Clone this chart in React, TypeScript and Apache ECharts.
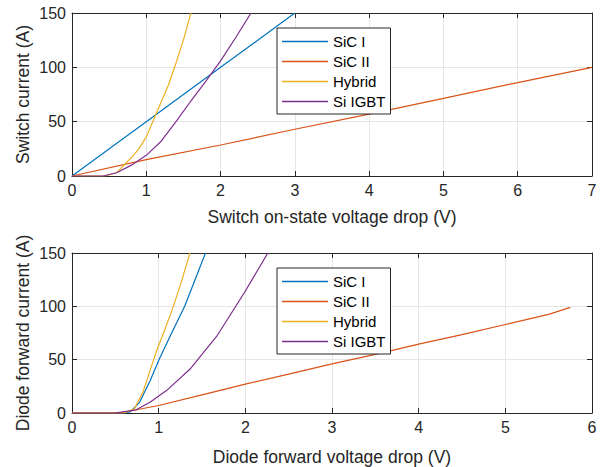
import React, { useEffect, useRef } from "react";
import * as echarts from "echarts";

const seriesNames = ["SiC I", "SiC II", "Hybrid", "Si IGBT"];
const colors = ["#0072BD", "#D95319", "#EDB120", "#7E2F8E"];

// Switch on-state characteristics
const swSicIV = [0, 1, 2, 3];
const swSicI = [0, 50, 100, 150];
const swSicIIV = [0, 1, 2, 3, 4, 5, 6, 7];
const swSicII = [0, 15, 28.5, 43, 57, 71.5, 86, 100];
const swHybridV = [0, 0.45, 0.6, 0.7, 0.8, 0.9, 1.0, 1.1, 1.2, 1.3, 1.4, 1.5, 1.6];
const swHybrid = [0, 0, 3, 10, 17, 25, 36, 52, 68, 84, 104, 125, 150];
const swIgbtV = [0, 0.42, 0.6, 0.8, 1.0, 1.2, 1.4, 1.6, 1.8, 2.0, 2.2, 2.41];
const swIgbt = [0, 0, 3, 10, 19, 32, 50, 69, 87, 106, 127, 150];

// Diode forward characteristics
const dSicIV = [0, 0.6, 0.67, 0.78, 0.9, 1.01, 1.15, 1.3, 1.42, 1.54];
const dSicI = [0, 0, 1, 10, 30, 51, 75, 100, 125, 150];
const dSicIIV = [0, 0.55, 1, 1.5, 2, 2.5, 3, 3.5, 4, 4.5, 5, 5.5, 5.75];
const dSicII = [0, 0, 7, 17, 27, 36.5, 46, 55, 64.5, 73.5, 83, 92.5, 99];
const dHybridV = [0, 0.6, 0.72, 0.82, 0.97, 1.07, 1.17, 1.27, 1.36];
const dHybrid = [0, 0, 4, 20, 57, 78, 100, 125, 150];
const dIgbtV = [0, 0.49, 0.74, 0.9, 1.09, 1.36, 1.67, 1.99, 2.26];
const dIgbt = [0, 0, 3, 10, 21, 41, 72, 113, 150];

const yTicks = [0, 50, 100, 150];

const zip = (xs: number[], ys: number[]) => xs.map((x, i) => [x, ys[i]]);

const FONT = "'Liberation Sans', Arial, Helvetica, sans-serif";
const AX = "#262626";
const GRID = "#e6e6e6";
const TICK_FS = 16;
const NAME_FS = 17.5;

function App() {
  const ref = useRef<HTMLDivElement>(null);
  useEffect(() => {
    if (!ref.current) return;
    const chart = echarts.init(ref.current, undefined, { renderer: "svg" });

    const mainX = (gridIndex: number, max: number, name: string, gap: number) => ({
      type: "value",
      gridIndex,
      min: 0,
      max,
      interval: 1,
      position: "bottom",
      name,
      nameLocation: "middle",
      nameGap: gap,
      nameMoveOverlap: false,
      nameTextStyle: { fontSize: NAME_FS, color: AX, fontFamily: FONT },
      axisLine: { show: true, onZero: false, lineStyle: { color: AX, width: 1 } },
      axisTick: { show: true, inside: true, length: 5, lineStyle: { color: AX } },
      axisLabel: { fontSize: TICK_FS, color: AX, fontFamily: FONT, margin: 6 },
      splitLine: { show: true, lineStyle: { color: GRID, width: 1 } },
    });
    const topX = (gridIndex: number, max: number) => ({
      type: "value",
      gridIndex,
      min: 0,
      max,
      interval: 1,
      position: "top",
      axisLine: { show: true, onZero: false, lineStyle: { color: AX, width: 1 } },
      axisTick: { show: true, inside: true, length: 5, lineStyle: { color: AX } },
      axisLabel: { show: false },
      splitLine: { show: false },
    });
    const mainY = (gridIndex: number, name: string) => ({
      type: "value",
      gridIndex,
      min: 0,
      max: 150,
      interval: 50,
      position: "left",
      name,
      nameLocation: "middle",
      nameGap: 40,
      nameMoveOverlap: false,
      nameTextStyle: { fontSize: NAME_FS, color: AX, fontFamily: FONT },
      axisLine: { show: true, onZero: false, lineStyle: { color: AX, width: 1 } },
      axisTick: { show: true, inside: true, length: 5, lineStyle: { color: AX } },
      axisLabel: {
        fontSize: TICK_FS,
        color: AX,
        fontFamily: FONT,
        margin: 6,
        formatter: (v: number) => (yTicks.includes(v) ? String(v) : ""),
      },
      splitLine: { show: true, lineStyle: { color: GRID, width: 1 } },
    });
    const rightY = (gridIndex: number) => ({
      type: "value",
      gridIndex,
      min: 0,
      max: 150,
      interval: 50,
      position: "right",
      axisLine: { show: true, onZero: false, lineStyle: { color: AX, width: 1 } },
      axisTick: { show: true, inside: true, length: 5, lineStyle: { color: AX } },
      axisLabel: { show: false },
      splitLine: { show: false },
    });

    const mk = (name: string, idx: number, data: number[][], axisIdx: number) => ({
      type: "line",
      name,
      data,
      xAxisIndex: axisIdx,
      yAxisIndex: axisIdx,
      symbol: "none",
      showSymbol: false,
      smooth: false,
      lineStyle: { color: colors[idx], width: 1.2 },
      itemStyle: { color: colors[idx] },
      z: 3,
    });

    const legend = (top: number) => ({
      data: seriesNames,
      orient: "vertical",
      left: 277,
      top,
      padding: [6, 5, 5, 5],
      icon: "rect",
      itemWidth: 46,
      itemHeight: 1.3,
      itemGap: 5,
      backgroundColor: "#ffffff",
      borderColor: "#262626",
      borderWidth: 1,
      borderRadius: 0,
      textStyle: { fontSize: 15, color: "#000", fontFamily: FONT },
      selectedMode: false,
    });

    chart.setOption({
      animation: false,
      backgroundColor: "#ffffff",
      grid: [
        { left: 72, right: 10, top: 13, height: 163 },
        { left: 72, right: 10, top: 253, height: 161 },
      ],
      xAxis: [
        mainX(0, 7, "Switch on-state voltage drop (V)", 32),
        mainX(1, 6, "Diode forward voltage drop (V)", 35),
        topX(0, 7),
        topX(1, 6),
      ],
      yAxis: [
        mainY(0, "Switch current (A)"),
        mainY(1, "Diode forward current (A)"),
        rightY(0),
        rightY(1),
      ],
      legend: [legend(28), legend(268)],
      series: [
        mk("SiC I", 0, zip(swSicIV, swSicI), 0),
        mk("SiC II", 1, zip(swSicIIV, swSicII), 0),
        mk("Hybrid", 2, zip(swHybridV, swHybrid), 0),
        mk("Si IGBT", 3, zip(swIgbtV, swIgbt), 0),
        mk("SiC I", 0, zip(dSicIV, dSicI), 1),
        mk("SiC II", 1, zip(dSicIIV, dSicII), 1),
        mk("Hybrid", 2, zip(dHybridV, dHybrid), 1),
        mk("Si IGBT", 3, zip(dIgbtV, dIgbt), 1),
      ],
    });
    return () => chart.dispose();
  }, []);
  return <div ref={ref} style={{ width: 602, height: 467, position: "absolute", left: 0, top: 0 }} />;
}

export default App;
